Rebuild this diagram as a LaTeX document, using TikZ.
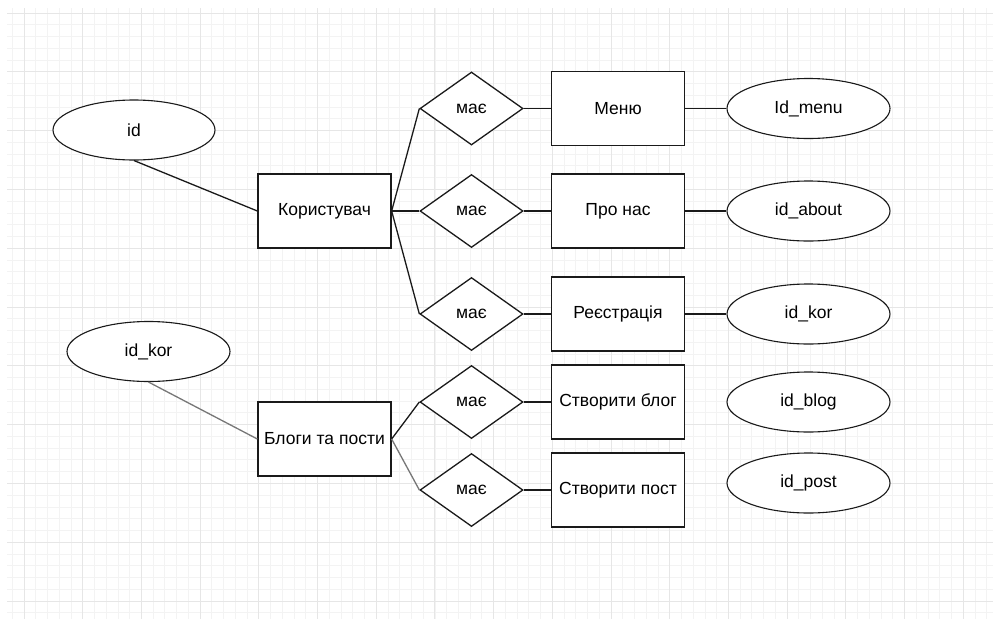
\documentclass[tikz,border=0pt]{standalone}
\usepackage{fontspec}
\setmainfont{Liberation Sans}
\usetikzlibrary{shapes.geometric}
\definecolor{gmaj}{HTML}{E6E6E6}
\definecolor{gmin}{HTML}{F3F3F3}
\definecolor{lnk}{HTML}{777777}
\definecolor{ink}{HTML}{1A1A1A}
\newcommand\erfont{\fontsize{17.5}{20}\selectfont}
\tikzset{
 ent/.style={draw=ink, line width=1.3pt, fill=white, minimum width=133pt, minimum height=74pt, inner sep=0pt, font=\erfont},
 rel/.style={diamond, draw=ink, line width=1.3pt, fill=white, minimum width=103pt, minimum height=73pt, inner sep=0pt, font=\erfont},
 attr/.style={ellipse, draw=ink, line width=1.1pt, fill=white, minimum width=163pt, minimum height=60pt, inner sep=0pt, font=\erfont},
 conn/.style={line width=1.3pt, draw=ink},
 conng/.style={line width=1.3pt, draw=lnk},
 gridmin/.style={draw=gmin, line width=0.8pt},
 gridmaj/.style={draw=gmaj, line width=0.9pt},
}
\begin{document}
\begin{tikzpicture}[x=1pt,y=-1pt]
\useasboundingbox (0,0) rectangle (993,619);
\fill[white] (0,0) rectangle (993,619);
% grid
\begin{scope}
\clip (7,8) rectangle (993,619);
\foreach \k in {-1,...,82} \draw[gridmin] ({24+11.74*\k},8) -- ({24+11.74*\k},619);
\foreach \k in {0,...,51} \draw[gridmin] (7,{13+11.76*\k}) -- (993,{13+11.76*\k});
\foreach \k in {0,...,16} \draw[gridmaj] ({24+58.7*\k},8) -- ({24+58.7*\k},619);
\foreach \k in {0,...,10} \draw[gridmaj] (7,{13+58.8*\k}) -- (993,{13+58.8*\k});
\end{scope}
% entities
\node[ent] (kor) at (324.5,211) {Користувач};
\node[ent] (blog) at (324.5,439) {Блоги та пости};
\node[ent] (menu) at (618,108.5) {Меню};
\node[ent] (about) at (618,211) {Про нас};
\node[ent] (reg) at (618,314) {Реєстрація};
\node[ent] (cblog) at (618,402) {Створити блог};
\node[ent] (cpost) at (618,490) {Створити пост};
% relations
\node[rel] (r1) at (471.5,108.5) {має};
\node[rel] (r2) at (471.5,211) {має};
\node[rel] (r3) at (471.5,314) {має};
\node[rel] (r4) at (471.5,402) {має};
\node[rel] (r5) at (471.5,490) {має};
% attributes
\node[attr, minimum width=162pt] (aid) at (134,130) {id};
\node[attr] (akor1) at (148.5,351.5) {id\_kor};
\node[attr] (amenu) at (808.5,108.5) {Id\_menu};
\node[attr] (aabout) at (808.5,211) {id\_about};
\node[attr] (akor2) at (808.5,314) {id\_kor};
\node[attr] (ablog) at (808.5,402) {id\_blog};
\node[attr] (apost) at (808.5,483) {id\_post};
% connectors
\draw[conn] (aid.south) -- (kor.west);
\draw[conng] (akor1.south) -- (blog.west);
\draw[conn] (kor.east) -- (r1.west);
\draw[conn] (kor.east) -- (r2.west);
\draw[conn] (kor.east) -- (r3.west);
\draw[conn] (blog.east) -- (r4.west);
\draw[conng] (blog.east) -- (r5.west);
\draw[conn] (r1.east) -- (menu.west);
\draw[conn] (r2.east) -- (about.west);
\draw[conn] (r3.east) -- (reg.west);
\draw[conn] (r4.east) -- (cblog.west);
\draw[conn] (r5.east) -- (cpost.west);
\draw[conn] (menu.east) -- (amenu.west);
\draw[conn] (about.east) -- (aabout.west);
\draw[conn] (reg.east) -- (akor2.west);
\end{tikzpicture}
\end{document}
